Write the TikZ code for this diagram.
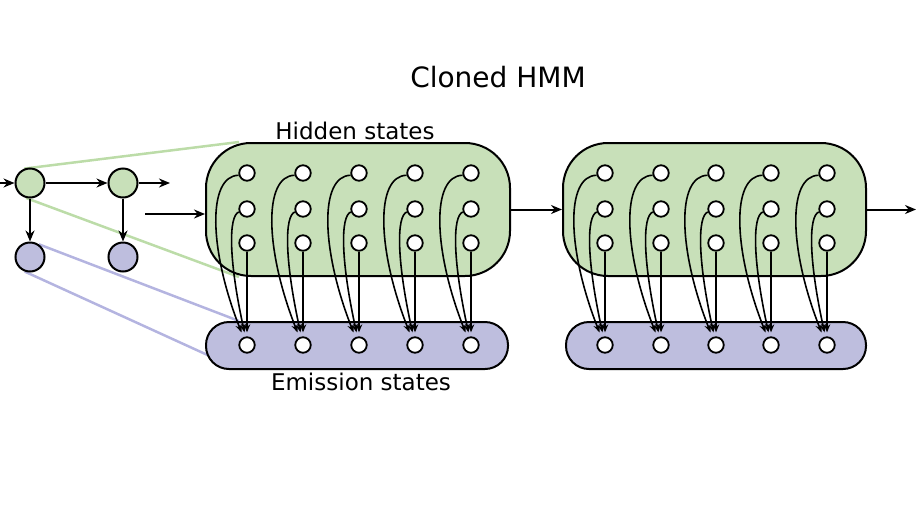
\documentclass[tikz,border=0pt]{standalone}
\usepackage{fontspec}
\setmainfont{DejaVu Sans}
\usetikzlibrary{arrows.meta,backgrounds}
\definecolor{hgreen}{RGB}{200,224,185}
\definecolor{epurple}{RGB}{190,190,222}
\definecolor{lgreen}{RGB}{188,220,168}
\definecolor{lpurple}{RGB}{180,180,224}
\newcommand{\clonecol}[3]{% #1 block, #2 index, #3 x
  \node[cnode] (t#1#2) at (#3,173) {};
  \node[cnode] (m#1#2) at (#3,209) {};
  \node[cnode] (l#1#2) at (#3,243) {};
  \node[cnode] (e#1#2) at (#3,345) {};
  \draw[smallarr] (t#1#2.195) .. controls (#3-40,176) and (#3-38,250) .. ([xshift=-5.5pt,yshift=4pt]e#1#2.north);
  \draw[smallarr] (m#1#2.200) .. controls (#3-19,216) and (#3-18,262) .. ([xshift=-2.5pt,yshift=4pt]e#1#2.north);
  \draw[smallarr] (l#1#2.south) -- ([yshift=4pt]e#1#2.north);
}
\begin{document}
\begin{tikzpicture}[x=1pt,y=-1pt,
 hbox/.style={draw,fill=hgreen,line width=2pt,rounded corners=45pt,inner sep=0},
 ebox/.style={draw,fill=epurple,line width=2pt,rounded corners=23pt,inner sep=0},
 cnode/.style={circle,draw,fill=white,line width=1.8pt,minimum size=15.5pt,inner sep=0},
 snodeg/.style={circle,draw,fill=hgreen,line width=2pt,minimum size=29pt,inner sep=0},
 snodep/.style={circle,draw,fill=epurple,line width=2pt,minimum size=29pt,inner sep=0},
 bigarr/.style={line width=2pt,-{Stealth[length=11pt,width=9pt]}},
 smallarr/.style={line width=1.6pt,-{Stealth[length=8pt,width=6.5pt]}},
 projg/.style={draw=lgreen,line width=2.5pt},
 projp/.style={draw=lpurple,line width=2.5pt},
 titletext/.style={font=\fontsize{28}{32}\selectfont,anchor=base},
 labtext/.style={font=\fontsize{23}{26}\selectfont,anchor=base}]
\useasboundingbox (0,0) rectangle (918,517);

% title and labels
\node[titletext] (title) at (498,87) {Cloned HMM};
\node[labtext] (hlab) at (355,139) {Hidden states};
\node[labtext] (elab) at (361,390) {Emission states};

% big boxes
\node[hbox,minimum width=304pt,minimum height=133pt] (H1) at (358,209.5) {};
\node[ebox,minimum width=302pt,minimum height=47pt] (E1) at (357,345.5) {};
\node[hbox,minimum width=303pt,minimum height=133pt] (H2) at (714.5,209.5) {};
\node[ebox,minimum width=300pt,minimum height=47pt] (E2) at (716,345.5) {};

% small model on the left
\node[snodeg] (G1) at (30,183) {};
\node[snodeg] (G2) at (123,183) {};
\node[snodep] (P1) at (30,257) {};
\node[snodep] (P2) at (123,257) {};
\coordinate (in0) at (0,183);
\coordinate (out0) at (170,183);
\coordinate (ina) at (145,214);
\coordinate (outb) at (916,209.5);

\begin{scope}[on background layer]
 \draw[projg] (G1.112) -- ([xshift=34pt]H1.north west);
 \draw[projg] (G1.-105) -- ([xshift=34pt]H1.south west);
 \draw[projp] (P1.55) -- ([xshift=34pt]E1.north west);
 \draw[projp] (P1.-110) -- ([xshift=8pt,yshift=-12pt]E1.west);
\end{scope}

\draw[bigarr] (in0) -- (G1);
\draw[bigarr] (G1) -- (G2);
\draw[bigarr] (G2) -- (out0);
\draw[bigarr] (G1) -- (P1);
\draw[bigarr] (G2) -- (P2);
\draw[bigarr] (ina) -- (ina -| H1.west);
\draw[bigarr] (H1.east) -- (H2.west);
\draw[bigarr] (H2.east) -- (outb);

% clone columns
\foreach \x [count=\i] in {247,303,359,415,471} {\clonecol{1}{\i}{\x}}
\foreach \x [count=\i] in {605,661,716,771,827} {\clonecol{2}{\i}{\x}}
\end{tikzpicture}
\end{document}
